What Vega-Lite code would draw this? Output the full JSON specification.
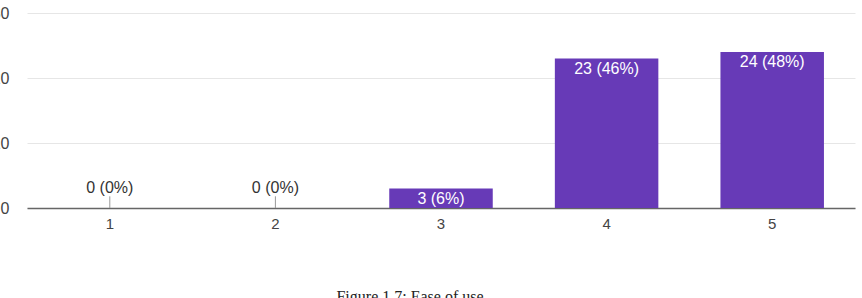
{
  "$schema": "https://vega.github.io/schema/vega-lite/v6.json",
  "autosize": "none",
  "width": 828,
  "height": 195,
  "padding": {"left": 27, "top": 13, "right": 7, "bottom": 90},
  "background": "white",
  "config": {
    "view": {"stroke": null},
    "font": "Liberation Sans"
  },
  "title": {
    "text": "Figure 1.7: Ease of use",
    "orient": "bottom",
    "anchor": "middle",
    "offset": 58,
    "font": "Liberation Serif",
    "fontSize": 16,
    "fontWeight": "normal",
    "color": "#222",
    "dx": -31
  },
  "data": {
    "values": [
      {"rating": "1", "count": 0, "label": "0 (0%)"},
      {"rating": "2", "count": 0, "label": "0 (0%)"},
      {"rating": "3", "count": 3, "label": "3 (6%)"},
      {"rating": "4", "count": 23, "label": "23 (46%)"},
      {"rating": "5", "count": 24, "label": "24 (48%)"}
    ]
  },
  "encoding": {
    "x": {
      "field": "rating",
      "type": "nominal",
      "sort": null,
      "scale": {"paddingInner": 0.375, "paddingOuter": 0.1875},
      "axis": {
        "title": null,
        "labelAngle": 0,
        "labelFont": "Liberation Sans",
        "labelFontSize": 15,
        "labelColor": "#444",
        "labelPadding": 8,
        "ticks": false,
        "domainColor": "#666",
        "domainWidth": 1.5
      }
    }
  },
  "layer": [
    {
      "mark": {"type": "bar", "color": "#673ab7"},
      "encoding": {
        "y": {
          "field": "count",
          "type": "quantitative",
          "scale": {"domain": [0, 30], "nice": false},
          "axis": {
            "title": null,
            "values": [0, 5, 10, 15, 20, 25, 30],
            "labelExpr": "datum.value % 10 === 0 ? datum.label : ''",
            "labelFont": "Liberation Sans",
            "labelFontSize": 16,
            "labelColor": "#444",
            "labelPadding": 18,
            "ticks": false,
            "domain": false,
            "gridColor": {"condition": {"test": "datum.value % 10 === 0", "value": "#e6e6e6"}, "value": "#f3f3f3"},
            "gridWidth": 1
          }
        }
      }
    },
    {
      "transform": [{"filter": "datum.count === 0"}],
      "mark": {"type": "rule", "color": "#999", "strokeWidth": 1},
      "encoding": {
        "y": {"field": "count", "type": "quantitative"},
        "y2": {"datum": 1.8}
      }
    },
    {
      "transform": [{"filter": "datum.count === 0"}],
      "mark": {"type": "text", "baseline": "middle", "dy": -20, "fontSize": 16, "color": "#333"},
      "encoding": {
        "y": {"field": "count", "type": "quantitative"},
        "text": {"field": "label"}
      }
    },
    {
      "transform": [{"filter": "datum.count > 0"}],
      "mark": {"type": "text", "baseline": "middle", "dy": 10, "fontSize": 16, "color": "white"},
      "encoding": {
        "y": {"field": "count", "type": "quantitative"},
        "text": {"field": "label"}
      }
    }
  ]
}
